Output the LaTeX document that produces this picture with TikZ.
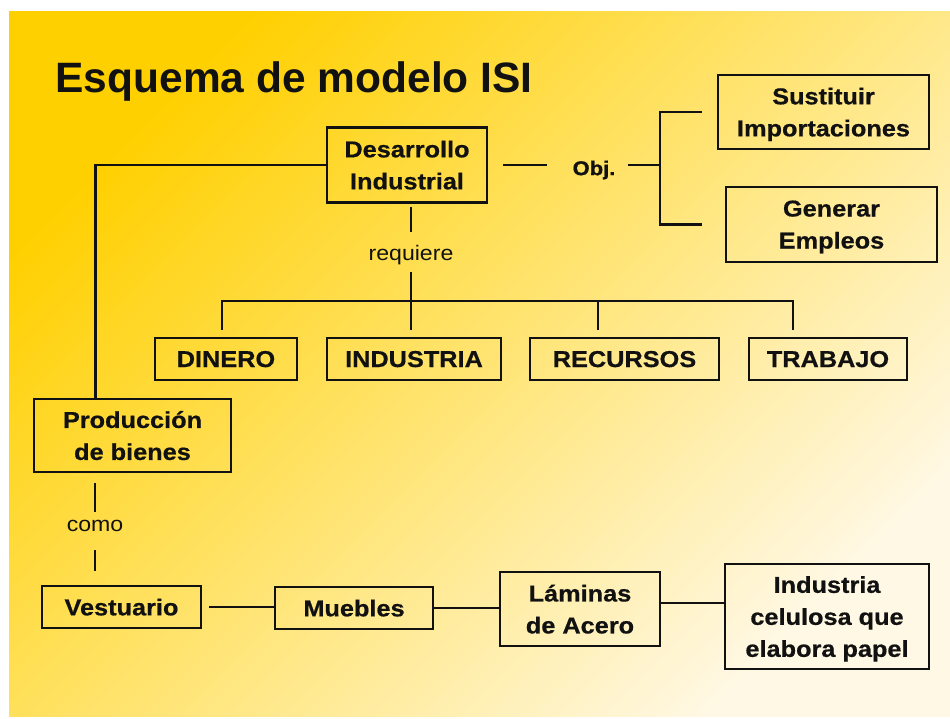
\documentclass[tikz,border=0pt]{standalone}
\usepackage{fontspec}
\setmainfont{Liberation Sans}
\newfontfamily\cajafont{Liberation Sans}[FakeStretch=1.1, BoldFeatures={FakeBold=0.6}]
\definecolor{slideyellow}{HTML}{FFD000}
\definecolor{slidemid}{HTML}{FDE27C}
\definecolor{slidecream}{HTML}{FFF8E4}
\definecolor{inkblack}{HTML}{111111}

\begin{document}
\begin{tikzpicture}[x=1pt, y=-1pt]
\tikzstyle{concepto} = [rectangle, draw=inkblack, line width=2.3pt, align=center, inner sep=0pt, text depth=0pt, text=inkblack, font=\cajafont\bfseries\fontsize{23}{32}\selectfont]
\tikzstyle{enlace} = [inner sep=0pt, minimum height=24pt, text=inkblack, font=\cajafont\fontsize{21}{24}\selectfont]
\tikzstyle{rotulo} = [inner sep=0pt, text=inkblack, font=\cajafont\bfseries\fontsize{20}{24}\selectfont]
\tikzstyle{linea} = [line width=2.1pt, draw=inkblack]

\useasboundingbox (0,0) rectangle (950,718);
% Slide background
\shade[top color=slideyellow, middle color=slidemid, bottom color=slidecream, shading angle=45] (9,11) rectangle (950,716);

% Title
\node (titulo) [anchor=base west, text=inkblack, font=\bfseries\fontsize{42.5}{50}\selectfont] at (52,92) {Esquema de modelo ISI};

% Central concept and objectives
\node (desa) [concepto, minimum width=160pt, minimum height=75pt] at (407,165) {Desarrollo\\Industrial};
\node (obj) [rotulo] at (594,170) {Obj.};
\node (sust) [concepto, minimum width=211pt, minimum height=74pt] at (823.5,112) {Sustituir\\Importaciones};
\node (gene) [concepto, minimum width=211pt, minimum height=75pt] at (831.5,224.5) {Generar\\Empleos};
\coordinate (corchete) at (660,165);

% Requirements
\node (req) [enlace] at (411,255) {requiere};
\coordinate (hub) at (411,301);
\node (dinero) [concepto, minimum width=142pt, minimum height=42pt] at (226,359) {DINERO};
\node (industria) [concepto, minimum width=174pt, minimum height=42pt] at (414,359) {INDUSTRIA};
\node (recursos) [concepto, minimum width=189pt, minimum height=42pt] at (624.5,359) {RECURSOS};
\node (trabajo) [concepto, minimum width=158pt, minimum height=42pt] at (828,359) {TRABAJO};

% Production chain
\node (prod) [concepto, minimum width=197pt, minimum height=73pt] at (132.5,435.5) {Producción\\de bienes};
\node (como) [enlace] at (95,526) {como};
\node (vest) [concepto, minimum width=159pt, minimum height=42pt] at (121.5,607) {Vestuario};
\node (mueb) [concepto, minimum width=158pt, minimum height=42pt] at (354,608) {Muebles};
\node (lami) [concepto, minimum width=160pt, minimum height=74pt] at (580,609) {Láminas\\de Acero};
\node (celu) [concepto, minimum width=204pt, minimum height=105pt] at (827,616.5) {Industria\\celulosa que\\elabora papel};

% Connectors
\draw[linea, shorten <=15pt, shorten >=25pt] (desa.east) -- (obj.west |- desa.east);
\draw[linea, shorten <=12pt] (obj.east |- corchete) -- (corchete);
\draw[linea] ([xshift=-15pt]sust.west) -| (corchete) |- ([xshift=-23pt]gene.west);
\draw[linea, shorten <=3pt, shorten >=11pt] (desa.south -| req) -- (req.north);
\draw[linea, shorten <=5pt] (req.south) -- (hub);
\foreach \n/\dx in {dinero/-4, industria/-3, recursos/-26.5, trabajo/-35} {
    \draw[linea] ([xshift=\dx pt, yshift=7pt]\n.north) |- (hub);
}
\draw[linea] ([xshift=-37pt]prod.north) |- (desa.west);
\draw[linea, shorten <=10pt, shorten >=2pt] (prod.south -| como) -- (como.north);
\draw[linea, shorten <=12pt, shorten >=14pt] (como.south) -- (vest.north -| como);
\draw[linea, shorten <=7pt] (vest.east) -- (mueb.west |- vest.east);
\draw[linea] (mueb.east) -- (lami.west |- mueb.east);
\draw[linea] ([yshift=6pt]lami.east) -- ([yshift=6pt]lami.east -| celu.west);

\end{tikzpicture}
\end{document}
